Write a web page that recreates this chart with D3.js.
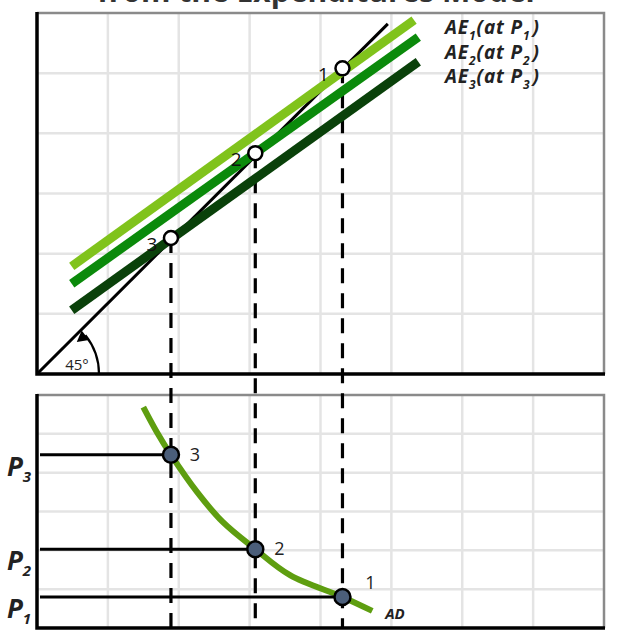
<!DOCTYPE html>
<html lang="en">
<head>
<meta charset="UTF-8">
<title>AD Curve from the Expenditures Model</title>
<script src="https://d3js.org/d3.v7.min.js"></script>
<style>
  body { margin: 0; background: #fff; }
  svg text { font-family: "Open Sans", "DejaVu Sans", sans-serif; }
</style>
</head>
<body>
<div id="chart"></div>
<script>
// grid cells in both panels
const gridCols = d3.range(0, 9);
const gridRows = d3.range(0, 7);

// top panel: 45 degree line
const line45 = [[0, 0], [4.95, 5.82]];

// aggregate expenditure lines (start, end)
const aeNames = ["1", "2", "3"];
const aeLines = [
  [[0.49, 1.79], [5.32, 5.88]],
  [[0.49, 1.50], [5.38, 5.60]],
  [[0.49, 1.06], [5.38, 5.19]]
];

// equilibrium points 1, 2, 3
const eqLabels = ["1", "2", "3"];
const eqX = [4.31, 3.08, 1.89];
const eqY = [5.08, 3.67, 2.26];
// price levels P1, P2, P3 (bottom panel)
const priceY = [0.80, 2.03, 4.46];

// aggregate demand curve
const adCurve = [[1.50, 5.69], [1.69, 5.05], [1.89, 4.46], [2.26, 3.50], [2.62, 2.73], [3.08, 2.03],
  [3.57, 1.36], [4.31, 0.80], [4.73, 0.44]];

const W = 641, H = 636;
const svg = d3.select("#chart").append("svg")
  .attr("width", W).attr("height", H);

const x = d3.scaleLinear().domain([0, 8]).range([37, 604]);
const yTop = d3.scaleLinear().domain([0, 6]).range([374, 13]);
const yBot = d3.scaleLinear().domain([0, 6]).range([628, 395]);

const aeColor = d3.scaleOrdinal().domain(aeNames).range(["#80c31c", "#0b8a0b", "#0a410a"]);

// title (only the lower part shows)
svg.append("text")
  .attr("x", 316).attr("y", 2)
  .attr("text-anchor", "middle")
  .attr("font-size", 30).attr("font-weight", "bold")
  .attr("fill", "#333")
  .text("from the Expenditures Model");

function panel(y) {
  const g = svg.append("g");
  g.selectAll(".vg").data(gridCols.slice(1, -1)).enter().append("line")
    .attr("x1", d => x(d)).attr("x2", d => x(d))
    .attr("y1", y(6)).attr("y2", y(0))
    .attr("stroke", "#e4e4e4").attr("stroke-width", 2.5);
  g.selectAll(".hg").data(gridRows.slice(1, -1)).enter().append("line")
    .attr("x1", x(0)).attr("x2", x(8))
    .attr("y1", d => y(d)).attr("y2", d => y(d))
    .attr("stroke", "#e4e4e4").attr("stroke-width", 2.5);
  // grey frame top and right
  g.append("path")
    .attr("d", `M${x(0)},${y(6)}H${x(8)}V${y(0)}`)
    .attr("fill", "none").attr("stroke", "#8a8a8a").attr("stroke-width", 2.5);
  // black axes
  g.append("path")
    .attr("d", `M${x(0)},${y(6) - 1}V${y(0)}H${x(8) + 1}`)
    .attr("fill", "none").attr("stroke", "#000").attr("stroke-width", 3.5);
  return g;
}

const topPanel = panel(yTop);
const botPanel = panel(yBot);

// 45 degree line
svg.append("path")
  .attr("d", d3.line().x(d => x(d[0])).y(d => yTop(d[1]))(line45))
  .attr("stroke", "#000").attr("stroke-width", 3).attr("fill", "none");

// 45 degree arc with arrow
const r45 = 62, cx0 = x(0), cy0 = yTop(0);
const arcPath = d3.path();
arcPath.arc(cx0, cy0, r45, 0, -Math.PI * 0.215, true);
svg.append("path")
  .attr("d", arcPath.toString())
  .attr("fill", "none").attr("stroke", "#000").attr("stroke-width", 2.2);
const tipA = -Math.PI * 0.215;
const tip = [cx0 + r45 * Math.cos(tipA), cy0 + r45 * Math.sin(tipA)];
svg.append("path")
  .attr("d", "M0,-6L-11,0L0,6Z")
  .attr("transform", `translate(${tip[0]},${tip[1]}) rotate(-38.7)`)
  .attr("fill", "#000");
svg.append("text")
  .attr("x", cx0 + 40).attr("y", cy0 - 4)
  .attr("text-anchor", "middle").attr("font-size", 15).attr("fill", "#222")
  .text("45°");

// dashed drop lines
svg.selectAll(".drop").data(eqX).enter().append("line")
  .attr("x1", d => x(d)).attr("x2", d => x(d))
  .attr("y1", (d, i) => yTop(eqY[i])).attr("y2", yBot(0))
  .attr("stroke", "#000").attr("stroke-width", 3.2)
  .attr("stroke-dasharray", "15,10");

// AE lines
svg.selectAll(".ae").data(aeLines).enter().append("path")
  .attr("d", d => d3.line().x(p => x(p[0])).y(p => yTop(p[1]))(d))
  .attr("stroke", (d, i) => aeColor(aeNames[i]))
  .attr("stroke-width", 9).attr("fill", "none");

// AE legend labels
const leg = svg.selectAll(".leg").data(aeNames).enter().append("text")
  .attr("x", 445).attr("y", (d, i) => 34 + i * 24.5)
  .attr("font-size", 19).attr("font-weight", "bold").attr("font-style", "italic")
  .attr("letter-spacing", 0.9)
  .attr("fill", "#222");
leg.each(function(d) {
  const t = d3.select(this);
  t.append("tspan").text("AE");
  t.append("tspan").attr("font-size", 12).attr("dy", 6).text(d);
  t.append("tspan").attr("dy", -6).text("(at P");
  t.append("tspan").attr("font-size", 12).attr("dy", 6).text(d);
  t.append("tspan").attr("dy", -6).attr("dx", 2).text(")");
});

// equilibrium circles (top)
svg.selectAll(".eq").data(eqX).enter().append("circle")
  .attr("cx", d => x(d)).attr("cy", (d, i) => yTop(eqY[i]))
  .attr("r", 7).attr("fill", "#fff")
  .attr("stroke", "#000").attr("stroke-width", 2.5);
svg.selectAll(".eql").data(eqLabels).enter().append("text")
  .attr("x", (d, i) => x(eqX[i]) - 19).attr("y", (d, i) => yTop(eqY[i]) + 13)
  .attr("text-anchor", "middle").attr("font-size", 19).attr("fill", "#111")
  .text(d => d);

// AD curve
svg.append("path")
  .attr("d", d3.line().curve(d3.curveCatmullRom).x(d => x(d[0])).y(d => yBot(d[1]))(adCurve))
  .attr("stroke", "#5e9e10").attr("stroke-width", 6).attr("fill", "none");
svg.append("text")
  .attr("x", 395).attr("y", 619)
  .attr("text-anchor", "middle").attr("font-size", 15)
  .attr("font-weight", "bold").attr("font-style", "italic").attr("fill", "#222")
  .text("AD");

// price level lines
svg.selectAll(".pl").data(priceY).enter().append("line")
  .attr("x1", x(0) + 3).attr("x2", (d, i) => x(eqX[i]))
  .attr("y1", d => yBot(d)).attr("y2", d => yBot(d))
  .attr("stroke", "#000").attr("stroke-width", 3);

// price labels
const pl = svg.selectAll(".plab").data(eqLabels).enter().append("text")
  .attr("x", 7).attr("y", (d, i) => yBot(priceY[i]) + 21)
  .attr("font-size", 26).attr("font-weight", "bold").attr("font-style", "italic")
  .attr("fill", "#222");
pl.each(function(d) {
  const t = d3.select(this);
  t.append("tspan").text("P");
  t.append("tspan").attr("font-size", 15).attr("dy", 6).text(d);
});

// AD points
svg.selectAll(".adp").data(eqX).enter().append("circle")
  .attr("cx", d => x(d)).attr("cy", (d, i) => yBot(priceY[i]))
  .attr("r", 8).attr("fill", "#4b5e7a")
  .attr("stroke", "#000").attr("stroke-width", 2.5);
svg.selectAll(".adl").data(eqLabels).enter().append("text")
  .attr("x", (d, i) => x(eqX[i]) + (i === 0 ? 28 : 24))
  .attr("y", (d, i) => yBot(priceY[i]) + (i === 0 ? -8 : 6))
  .attr("text-anchor", "middle").attr("font-size", 18).attr("fill", "#222")
  .text(d => d);
</script>
</body>
</html>
